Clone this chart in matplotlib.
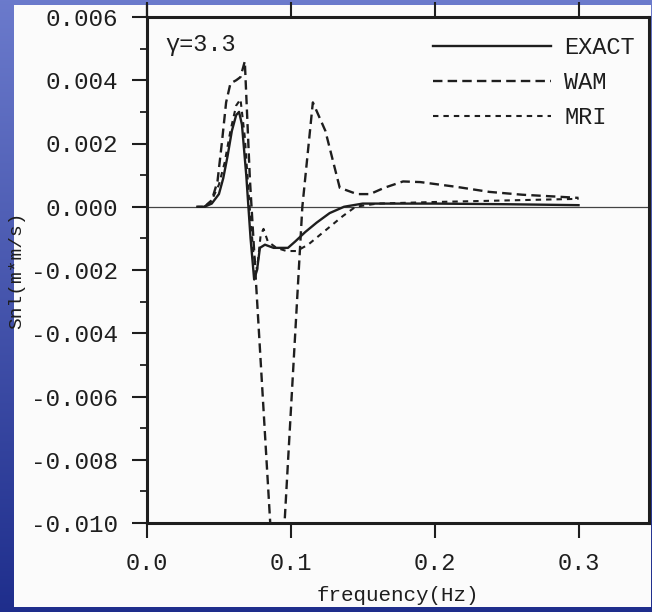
import numpy as np
import matplotlib
matplotlib.use("Agg")
import matplotlib.pyplot as plt
from matplotlib.patches import Rectangle
from matplotlib.lines import Line2D
from matplotlib.ticker import MultipleLocator, FormatStrFormatter

# Snl source term curves, frequency in Hz
exact_f = [0.035, 0.040, 0.045, 0.050, 0.053, 0.056, 0.059, 0.062, 0.064, 0.066,
           0.069, 0.072, 0.0745, 0.0765, 0.0785, 0.082, 0.088, 0.094, 0.098, 0.103,
           0.110, 0.118, 0.127, 0.137, 0.150, 0.170, 0.200, 0.250, 0.300]
exact_v = [0.0, 0.0, 0.0001, 0.0004, 0.0009, 0.0016, 0.0024, 0.0029, 0.0030, 0.0026,
           0.0010, -0.0010, -0.0023, -0.0020, -0.0013, -0.0012, -0.0013, -0.0013, -0.0013, -0.0011,
           -0.0008, -0.0005, -0.0002, 0.0, 0.0001, 0.0001, 0.0001, 0.00008, 0.00005]

wam_f = [0.040, 0.045, 0.049, 0.052, 0.055, 0.058, 0.062, 0.065, 0.068, 0.0715,
         0.0858, 0.0955, 0.108, 0.1153, 0.124, 0.134, 0.140, 0.146, 0.155, 0.165,
         0.178, 0.190, 0.215, 0.238, 0.261, 0.285, 0.300]
wam_v = [0.0, 0.0002, 0.0008, 0.0020, 0.0033, 0.0039, 0.0040, 0.0041, 0.0046, 0.0009,
         -0.0101, -0.0101, 0.0, 0.0033, 0.0024, 0.0006, 0.0005, 0.0004, 0.0004, 0.0006,
         0.0008, 0.00078, 0.00063, 0.00047, 0.00038, 0.00032, 0.00028]

mri_f = [0.035, 0.040, 0.045, 0.050, 0.054, 0.058, 0.062, 0.065, 0.068, 0.071,
         0.074, 0.0765, 0.079, 0.081, 0.084, 0.090, 0.097, 0.104, 0.112, 0.120,
         0.128, 0.136, 0.145, 0.160, 0.200, 0.250, 0.300]
mri_v = [0.0, 0.0, 0.0002, 0.0007, 0.0014, 0.0024, 0.0032, 0.0034, 0.0022, 0.0002,
         -0.0015, -0.0020, -0.0009, -0.0007, -0.0011, -0.0013, -0.0014, -0.0014, -0.0012, -0.0009,
         -0.0006, -0.0003, 0.0, 0.0001, 0.00015, 0.0002, 0.00025]

FONT = "Liberation Mono"
INK = "#1e1e1e"
plt.rcParams["font.family"] = FONT

W, H = 652, 612
fig = plt.figure(figsize=(W / 100, H / 100), dpi=100)

# blue slide background with a soft vertical gradient
yy = np.linspace(0, 1, H)[:, None, None]
top = np.array([0.42, 0.48, 0.80])
bot = np.array([0.12, 0.18, 0.55])
bg = np.broadcast_to(top * (1 - yy) + bot * yy, (H, W, 3))
fig.figimage(np.clip(bg, 0, 1), 0, 0, zorder=0, origin="upper")

# white page
fig.patches.append(Rectangle((14 / W, 5 / H), 637 / W, 602 / H, transform=fig.transFigure,
                             facecolor="#fbfbfb", edgecolor="none", zorder=0.5))

ax = fig.add_axes([147 / W, 89 / H, 502 / W, 506 / H])
ax.set_zorder(2)
ax.set_facecolor("none")

ax.axhline(0, color="#444444", lw=0.9, zorder=1)

ax.plot(exact_f, exact_v, color=INK, lw=1.7, label="EXACT")
ax.plot(wam_f, wam_v, color=INK, lw=1.7, dashes=(4.0, 2.2), label="WAM")
ax.plot(mri_f, mri_v, color=INK, lw=1.5, dashes=(2.6, 2.4), label="MRI")

ax.set_xlim(0, 0.349)
ax.set_ylim(-0.010, 0.006)

ax.xaxis.set_major_locator(MultipleLocator(0.1))
ax.xaxis.set_major_formatter(FormatStrFormatter("%.1f"))
ax.yaxis.set_major_locator(MultipleLocator(0.002))
ax.yaxis.set_minor_locator(MultipleLocator(0.001))
ax.yaxis.set_major_formatter(FormatStrFormatter("%.3f"))

ax.tick_params(axis="x", which="major", direction="out", length=11, width=1.5,
               top=True, labeltop=False, labelsize=17, pad=10, colors=INK)
ax.tick_params(axis="y", which="major", direction="out", length=11, width=1.5,
               labelsize=17.5, pad=10, colors=INK)
ax.tick_params(axis="y", which="minor", direction="out", length=5, width=1.3, colors=INK)

for s in ax.spines.values():
    s.set_linewidth(2.2)
    s.set_color(INK)

# left spine runs on into the panel above
ax.add_line(Line2D([0, 0], [1, 1 + 12 / 506], transform=ax.transAxes,
                   color=INK, lw=1.6, clip_on=False))

ax.set_xlabel("frequency(Hz)", fontsize=15, color=INK, labelpad=8)
ax.set_ylabel("Snl(m*m/s)", fontsize=14, color=INK)
ax.yaxis.set_label_coords(-122 / 502, 0.5)

ax.text(0.036, 0.945, "γ=3.3", transform=ax.transAxes, fontsize=17,
        color=INK, va="center", ha="left")

ax.legend(loc="upper right", bbox_to_anchor=(1.0, 0.99), frameon=False,
          fontsize=17, handlelength=5.0, handletextpad=0.55, labelspacing=0.5,
          borderaxespad=0.2, labelcolor=INK)

fig.savefig("out.png", dpi=100)
